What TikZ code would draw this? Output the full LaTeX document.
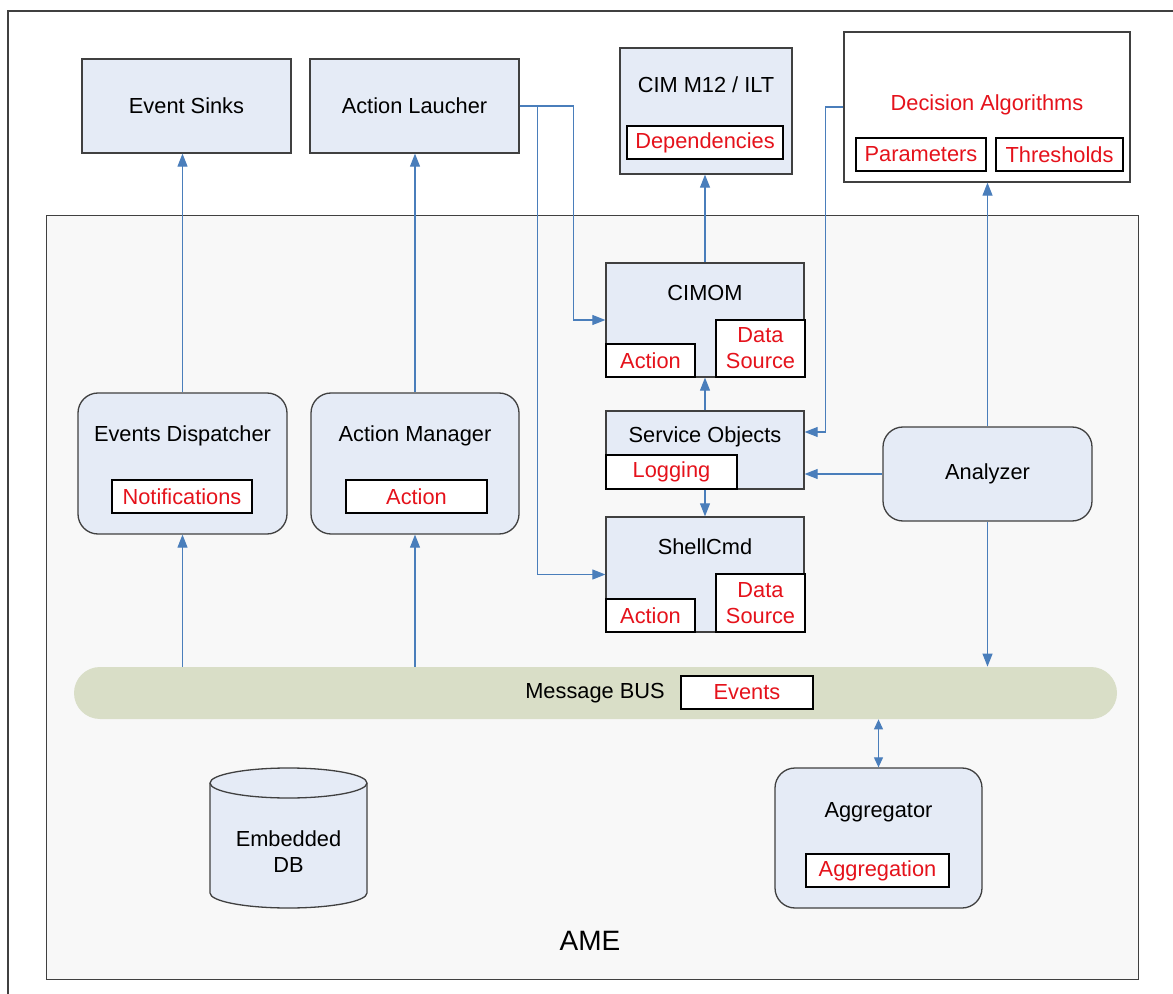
\documentclass[tikz,border=0pt]{standalone}
\usepackage{fontspec}
\setmainfont{Liberation Sans}
\usetikzlibrary{arrows.meta}
\definecolor{boxc}{HTML}{E5EBF6}
\definecolor{edgec}{HTML}{404040}
\definecolor{amec}{HTML}{F8F8F8}
\definecolor{busc}{HTML}{D9DEC7}
\definecolor{linkc}{HTML}{4A7EBB}
\definecolor{redc}{HTML}{E5121B}

\begin{document}
\begin{tikzpicture}[x=0.5pt,y=-0.5pt,font=\fontsize{10.9}{13}\selectfont,
    wh/.style 2 args={minimum width=#1*0.5pt,minimum height=#2*0.5pt},
    box/.style={draw=edgec,line width=0.65pt,fill=boxc,inner sep=0pt},
    rbox/.style={box,rounded corners=10pt},
    tag/.style={draw=black,line width=0.6pt,fill=white,text=redc,inner sep=0pt,align=center},
    link/.style={linkc,line width=0.55pt},
    arr/.style={link,-{Triangle[length=6.5pt,width=5pt]}},
    darr/.style={link,{Triangle[length=5pt,width=4.5pt]}-{Triangle[length=5pt,width=4.5pt]}},
    lid/.style={x radius=39.25pt,y radius=7.5pt}]
        \useasboundingbox (0,0) rectangle (1173,994);
        \draw[edgec,line width=0.6pt] (1173,11) -- (8,11) -- (8,994);
        \node[draw=edgec,line width=0.7pt,fill=amec,inner sep=0pt,wh={1092}{764},anchor=north west] (ame) at (46,215) {};
        \node[font=\fontsize{14}{16}\selectfont] (amelbl) at (590,941) {AME};
        \node[box,wh={209}{94}] (sinks) at (186.5,106) {Event Sinks};
        \node[box,wh={209}{94}] (launcher) at (414.5,106) {Action Laucher};
        \node[box,wh={172}{126}] (cim) at (706,111) {};
        \node (cimtitle) at (706,85) {CIM M12 / ILT};
        \node[tag,wh={156}{33}] (deps) at (705,142.5) {Dependencies};
        \node[draw=edgec,line width=0.65pt,fill=white,wh={286}{150}] (decision) at (987,107) {};
        \node[text=redc] (dectitle) at (987,105) {Decision Algorithms};
        \node[tag,wh={130}{33}] (params) at (921,154.5) {Parameters};
        \node[tag,wh={127}{33}] (thresh) at (1059.5,154.5) {Thresholds};
        \node[box,wh={198}{114}] (cimom) at (705,320) {};
        \node (cimomtitle) at (705,293) {CIMOM};
        \node[tag,wh={89}{33}] (cimomact) at (650.5,360.5) {Action};
        \node[tag,wh={89}{57}] (cimomsrc) at (760.5,348.5) {Data\\Source};
        \node[box,wh={198}{78}] (svc) at (705,450) {};
        \node (svctitle) at (705,437) {Service Objects};
        \node[tag,wh={131}{34}] (logging) at (671.5,472) {Logging};
        \node[box,wh={198}{115}] (shell) at (705,574.5) {};
        \node (shelltitle) at (705,547) {ShellCmd};
        \node[tag,wh={89}{33}] (shellact) at (650.5,615.5) {Action};
        \node[tag,wh={89}{58}] (shellsrc) at (760.5,603) {Data\\Source};
        \node[rbox,wh={209}{141}] (disp) at (182.5,463.5) {};
        \node (disptitle) at (182.5,436) {Events Dispatcher};
        \node[tag,wh={140}{33}] (notif) at (182,496.5) {Notifications};
        \node[rbox,wh={208}{141}] (amgr) at (415,463.5) {};
        \node (amgrtitle) at (415,436) {Action Manager};
        \node[tag,wh={141}{33}] (amgract) at (416.5,496.5) {Action};
        \node[rbox,wh={209}{94}] (analyzer) at (987.5,474) {Analyzer};
        \node[fill=busc,rounded corners=13pt,inner sep=0pt,wh={1043}{52}] (bus) at (595.5,693) {};
        \node (bustitle) at (595,693) {Message BUS};
        \node[tag,wh={132}{33}] (events) at (747,692.5) {Events};
        \draw[edgec,line width=0.65pt,fill=boxc] (210,783) -- (210,893) arc[start angle=180,end angle=360,lid] -- (367,783) arc[start angle=0,end angle=180,lid] -- cycle;
        \draw[edgec,line width=0.65pt] (210,783) arc[start angle=180,end angle=360,lid];
        \node[align=center] (db) at (288.5,852) {Embedded\\DB};
        \node[rbox,wh={207}{140}] (aggr) at (878.5,838) {};
        \node (aggrtitle) at (878.5,812) {Aggregator};
        \node[tag,wh={143}{33}] (aggrtag) at (877.5,870.5) {Aggregation};
        \draw[arr] (disp.north) -- (disp.north |- sinks.south);
        \draw[arr] (amgr.north) -- (amgr.north |- launcher.south);
        \draw[arr] (disp.south |- bus.north) -- (disp.south);
        \draw[arr] (amgr.south |- bus.north) -- (amgr.south);
        \draw[arr] (launcher.east) -| ([xshift=-16pt]cimom.west) -- (cimom.west);
        \draw[arr] (launcher.east) -| ([xshift=-34pt]shell.west) -- (shell.west);
        \draw[arr] (cimom.north) -- (cimom.north |- cim.south);
        \draw[arr] (svc.north) -- (cimom.south);
        \draw[arr] (svc.south) -- (shell.north);
        \draw[arr] (decision.west) -| ([xshift=10.5pt,yshift=9pt]svc.east) -- ([yshift=9pt]svc.east);
        \draw[arr] (analyzer.west) -- (analyzer.west -| svc.east);
        \draw[arr] (analyzer.north) -- (analyzer.north |- decision.south);
        \draw[arr] (analyzer.south) -- (analyzer.south |- bus.north);
        \draw[darr] (aggr.north |- bus.south) -- (aggr.north);
      \end{tikzpicture}
\end{document}
